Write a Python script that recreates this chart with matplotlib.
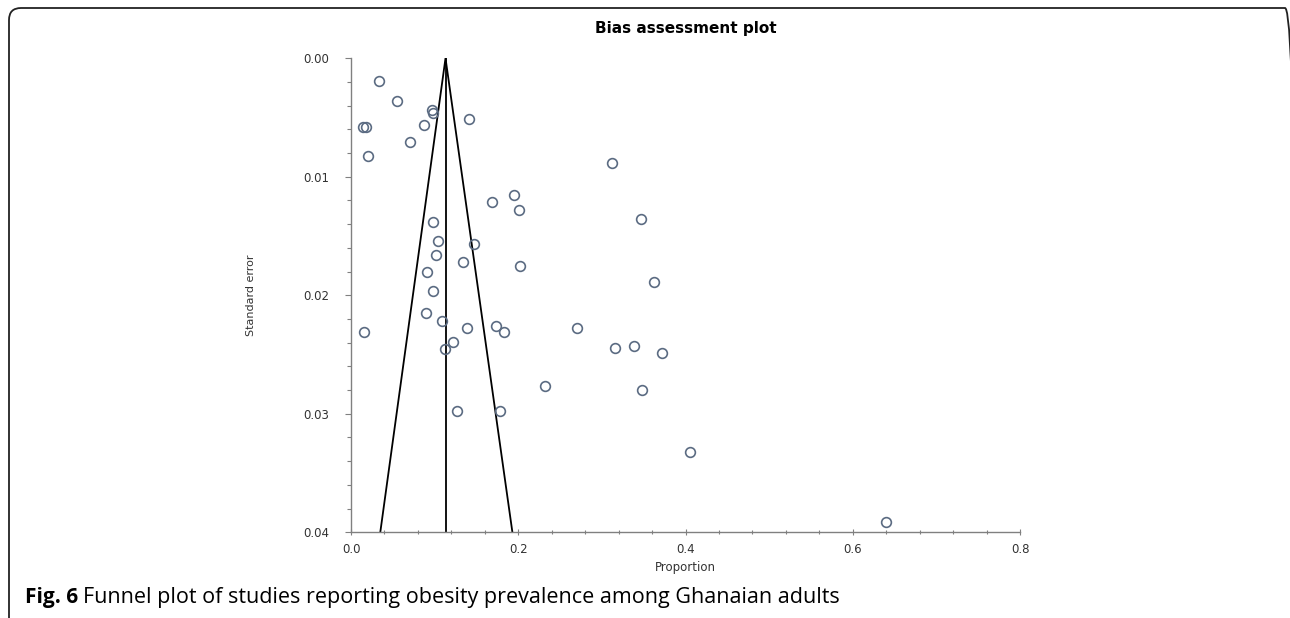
import numpy as np
import matplotlib
matplotlib.use("Agg")
import matplotlib.pyplot as plt
from matplotlib.patches import FancyBboxPatch

# study proportions and standard errors
proportion = [0.0336, 0.0548, 0.0968, 0.0980, 0.1407, 0.0148, 0.0180, 0.0876,
              0.0711, 0.0208, 0.3116, 0.1947, 0.1688, 0.2007, 0.3464, 0.0980,
              0.1035, 0.1472, 0.1020, 0.1335, 0.2016, 0.0912, 0.3620, 0.0984,
              0.0900, 0.1088, 0.0160, 0.1383, 0.1728, 0.1832, 0.2703, 0.1215,
              0.1128, 0.3161, 0.3387, 0.3716, 0.2324, 0.3479, 0.1268, 0.1779,
              0.4052, 0.6400]
std_error = [0.00192, 0.00360, 0.00436, 0.00459, 0.00512, 0.00577, 0.00582, 0.00560,
             0.00704, 0.00822, 0.00884, 0.01153, 0.01210, 0.01280, 0.01354, 0.01379,
             0.01539, 0.01567, 0.01662, 0.01719, 0.01750, 0.01801, 0.01890, 0.01968,
             0.02151, 0.02217, 0.02307, 0.02273, 0.02262, 0.02312, 0.02278, 0.02394,
             0.02453, 0.02442, 0.02425, 0.02489, 0.02763, 0.02802, 0.02979, 0.02979,
             0.03325, 0.03913]

pooled = 0.113
funnel_x = [0.035, pooled, 0.193]
funnel_se = [0.04, 0.0, 0.04]

xticks = [0.0, 0.2, 0.4, 0.6, 0.8]
yticks = [0.00, 0.01, 0.02, 0.03, 0.04]

fig = plt.figure(figsize=(12.9, 6.18), dpi=100)
ax = fig.add_axes([0.2721, 0.1387, 0.5186, 0.767])

ax.plot(funnel_x, funnel_se, color='black', lw=1.3)
ax.plot([pooled, pooled], [0, 0.04], color='black', lw=1.3)
ax.plot(proportion, std_error, 'o', mfc='none', mec='#5b6b82', mew=1.2, ms=7,
        clip_on=False)

ax.set_xlim(0, 0.8)
ax.set_ylim(0.04, 0.0)
ax.set_xticks(xticks)
ax.set_xticklabels(['%.1f' % v for v in xticks])
ax.set_yticks(yticks)
ax.set_yticklabels(['%.2f' % v for v in yticks])
ax.set_xticks(np.arange(0, 0.81, 0.04), minor=True)
ax.set_yticks(np.arange(0, 0.0401, 0.002), minor=True)

for s in ['top', 'right']:
    ax.spines[s].set_visible(False)
for s in ['left', 'bottom']:
    ax.spines[s].set_color('#808080')
    ax.spines[s].set_linewidth(1.0)

ax.tick_params(axis='both', which='both', colors='#808080', labelcolor='#333333',
               labelsize=8.5, width=0.8)
ax.tick_params(axis='x', which='major', direction='inout', length=5, pad=5)
ax.tick_params(axis='x', which='minor', direction='inout', length=3)
ax.tick_params(axis='y', which='major', direction='out', length=4, pad=12)
ax.tick_params(axis='y', which='minor', direction='out', length=3)

ax.set_xlabel('Proportion', fontsize=8.5, color='#333333', labelpad=4)
ax.set_ylabel('Standard error', fontsize=8, color='#333333', labelpad=34)
ax.set_title('Bias assessment plot', fontsize=11, fontweight='bold', pad=18)

# rounded frame around the figure panel
frame = FancyBboxPatch((9, -20), 1288, 630, boxstyle='round,pad=0,rounding_size=12',
                       transform=None, fill=False, ec='#222222', lw=1.3)
fig.patches.append(frame)

cap_y = 1 - 597 / 618
fig.text(25 / 1290, cap_y, 'Fig. 6', fontsize=15, fontweight='bold',
         va='center', ha='left', family='Open Sans')
fig.text(83 / 1290, cap_y,
         'Funnel plot of studies reporting obesity prevalence among Ghanaian adults',
         fontsize=15.5, va='center', ha='left', family='Open Sans')

fig.savefig('out.png', dpi=100)
